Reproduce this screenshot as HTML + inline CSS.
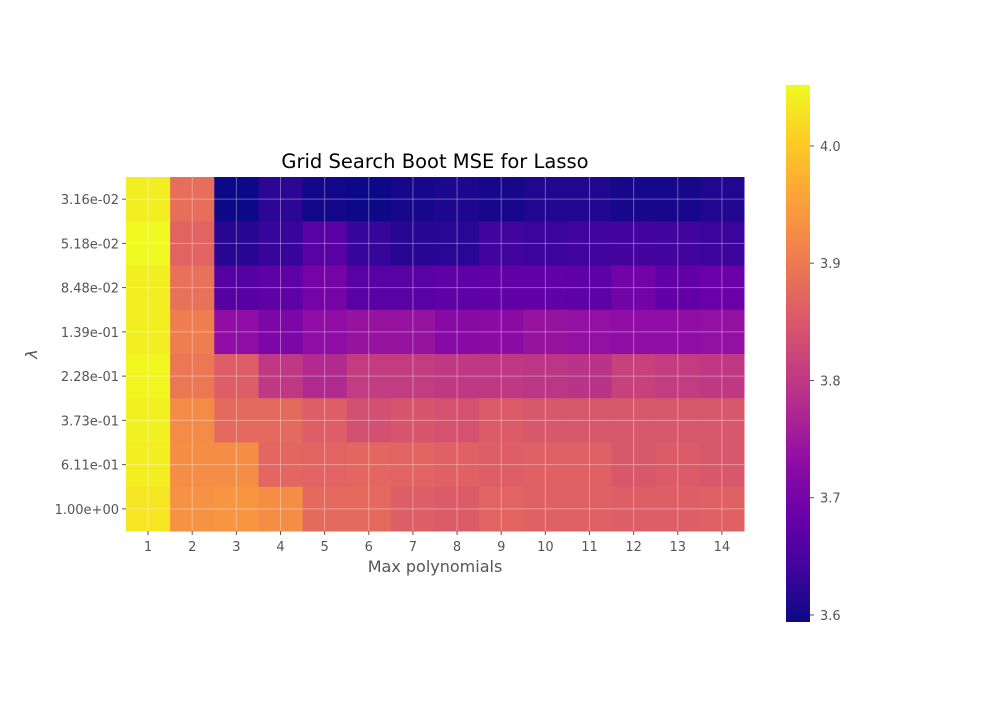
<!DOCTYPE html>
<html><head><meta charset="utf-8"><style>
body{margin:0;background:#fff;font-family:"DejaVu Sans","Liberation Sans",sans-serif}
</style></head><body>
<svg id="chart" width="1000" height="700" xmlns="http://www.w3.org/2000/svg" font-family="DejaVu Sans, Liberation Sans, sans-serif">
<defs><linearGradient id="plasma" x1="0" y1="1" x2="0" y2="0"></linearGradient></defs>
<g id="cells"></g><g id="grid"></g><g id="ticks"></g><g id="cbar"></g>
<text x="435" y="168" text-anchor="middle" font-size="19.5" fill="#000">Grid Search Boot MSE for Lasso</text>
<text x="435" y="572" text-anchor="middle" font-size="16" fill="#555">Max polynomials</text>
<text x="37" y="354" text-anchor="middle" font-size="16" fill="#555" transform="rotate(-90 37 354)" font-style="italic">λ</text>
</svg>
<script>
const xCats=[1,2,3,4,5,6,7,8,9,10,11,12,13,14];
const yCats=["3.16e-02","5.18e-02","8.48e-02","1.39e-01","2.28e-01","3.73e-01","6.11e-01","1.00e+00"];
const row0=[4.040,3.883,3.594,3.621,3.599,3.594,3.603,3.608,3.603,3.610,3.610,3.603,3.603,3.610];
const row1=[4.052,3.869,3.617,3.631,3.667,3.631,3.617,3.619,3.640,3.635,3.640,3.644,3.640,3.635];
const row2=[4.040,3.887,3.663,3.672,3.699,3.667,3.667,3.672,3.676,3.676,3.672,3.695,3.676,3.686];
const row3=[4.040,3.905,3.731,3.709,3.731,3.741,3.741,3.722,3.727,3.741,3.736,3.731,3.731,3.736];
const row4=[4.049,3.896,3.860,3.800,3.777,3.805,3.805,3.800,3.800,3.796,3.791,3.814,3.805,3.800];
const row5=[4.045,3.924,3.878,3.878,3.860,3.837,3.846,3.841,3.855,3.850,3.850,3.850,3.850,3.850];
const row6=[4.040,3.928,3.928,3.873,3.869,3.873,3.869,3.864,3.860,3.864,3.864,3.850,3.855,3.850];
const row7=[4.031,3.933,3.937,3.928,3.878,3.878,3.860,3.855,3.869,3.864,3.864,3.860,3.860,3.864];
const rows=[row0,row1,row2,row3,row4,row5,row6,row7];
const cbTicks=[3.6,3.7,3.8,3.9,4.0];
const vmin=3.594,vmax=4.052;
const stops=["#0d0887","#41049d","#6a00a8","#8f0da4","#b12a90","#cc4778","#e16462","#f2844b","#fca636","#fcce25","#f0f921"];
function hex(h){return[1,3,5].map(i=>parseInt(h.substr(i,2),16));}
function plasma(t){t=Math.max(0,Math.min(1,t));const f=t*10,i=Math.min(9,Math.floor(f)),r=f-i;const a=hex(stops[i]),b=hex(stops[i+1]);return`rgb(${a.map((v,k)=>Math.round(v+(b[k]-v)*r)).join(",")})`;}
const X0=126,X1=744,Y0=177,Y1=531;
const cw=(X1-X0)/xCats.length,ch=(Y1-Y0)/yCats.length;
const xs=i=>X0+i*cw, ys=j=>Y0+j*ch;
const NS="http://www.w3.org/2000/svg";
function mk(tag,attrs,parent){const e=document.createElementNS(NS,tag);for(const k in attrs)e.setAttribute(k,attrs[k]);document.getElementById(parent).appendChild(e);return e;}
rows.forEach((row,j)=>row.forEach((v,i)=>{
 const r=mk("rect",{x:xs(i),y:ys(j),width:cw+0.5,height:ch+0.5,fill:plasma((v-vmin)/(vmax-vmin))},"cells");
 
 
}));
xCats.forEach((c,i)=>{
 const cx=xs(i)+cw/2;
 mk("line",{x1:cx,x2:cx,y1:Y0,y2:Y1,stroke:"#fff","stroke-opacity":0.35,"stroke-width":1},"grid");
 mk("line",{x1:cx,x2:cx,y1:Y1,y2:Y1+4,stroke:"#555"},"ticks");
 const t=mk("text",{x:cx,y:Y1+20,"text-anchor":"middle","font-size":13,fill:"#555"},"ticks");t.textContent=c;
 
 
});
yCats.forEach((c,j)=>{
 const cy=ys(j)+ch/2;
 mk("line",{x1:X0,x2:X1,y1:cy,y2:cy,stroke:"#fff","stroke-opacity":0.35,"stroke-width":1},"grid");
 mk("line",{x1:X0-4,x2:X0,y1:cy,y2:cy,stroke:"#555"},"ticks");
 const t=mk("text",{x:X0-7,y:cy+5,"text-anchor":"end","font-size":13,fill:"#555"},"ticks");t.textContent=c;
 
 
});
const g=document.getElementById("plasma");
stops.forEach((s,i)=>{const st=document.createElementNS(NS,"stop");st.setAttribute("offset",i/10);st.setAttribute("stop-color",s);g.appendChild(st);});
const CX=786,CW=24,CY0=85,CY1=622;
const cb=mk("rect",{x:CX,y:CY0,width:CW,height:CY1-CY0,fill:"url(#plasma)"},"cbar");


const cys=v=>CY1-(v-vmin)/(vmax-vmin)*(CY1-CY0);
cbTicks.forEach(v=>{
 const y=cys(v);
 mk("line",{x1:CX+CW,x2:CX+CW+4,y1:y,y2:y,stroke:"#555"},"cbar");
 const t=mk("text",{x:CX+CW+10,y:y+5,"font-size":13,fill:"#555"},"cbar");t.textContent=v.toFixed(1);
 
 
});
</script>
</body></html>
